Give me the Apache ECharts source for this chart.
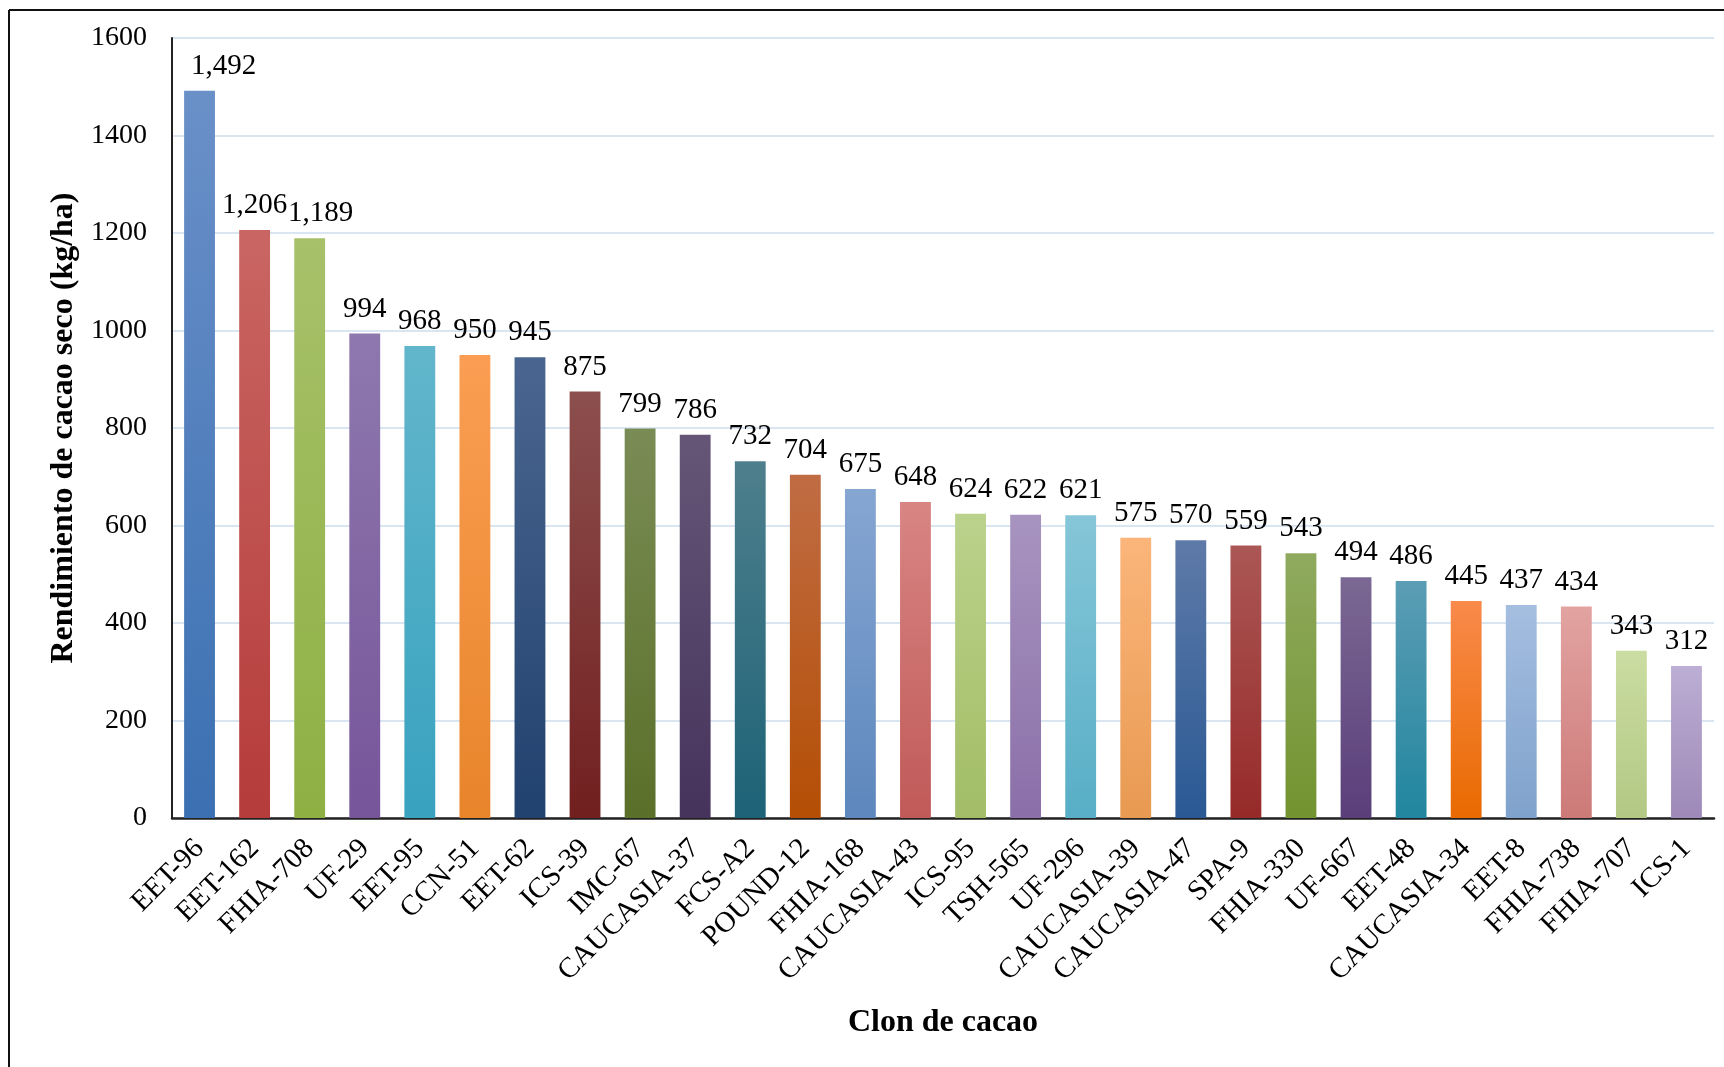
<!DOCTYPE html>
<html>
<head>
<meta charset="utf-8">
<title>Rendimiento de cacao seco por clon</title>
<script src="https://cdn.jsdelivr.net/npm/echarts@6/dist/echarts.min.js"></script>
<style>
  html, body { margin: 0; padding: 0; background: #ffffff; }
  #chart { width: 1724px; height: 1067px; }
</style>
</head>
<body>
<div id="chart"></div>
<script>
// Clones de cacao, ordenados por rendimiento
const clones = [
  'EET-96', 'EET-162', 'FHIA-708', 'UF-29', 'EET-95', 'CCN-51', 'EET-62', 'ICS-39',
  'IMC-67', 'CAUCASIA-37', 'FCS-A2', 'POUND-12', 'FHIA-168', 'CAUCASIA-43', 'ICS-95',
  'TSH-565', 'UF-296', 'CAUCASIA-39', 'CAUCASIA-47', 'SPA-9', 'FHIA-330', 'UF-667',
  'EET-48', 'CAUCASIA-34', 'EET-8', 'FHIA-738', 'FHIA-707', 'ICS-1'
];

// Rendimiento de cacao seco (kg/ha)
const rendimiento = [
  1492, 1206, 1189, 994, 968, 950, 945, 875,
  799, 786, 732, 704, 675, 648, 624,
  622, 621, 575, 570, 559, 543, 494,
  486, 445, 437, 434, 343, 312
];

// Marcas del eje Y
const yTicks = [0, 200, 400, 600, 800, 1000, 1200, 1400, 1600];

// Degradado vertical de cada barra: color superior y color inferior
const topColors = [
  '#6a90c8', '#c96663', '#a7c16a', '#8e78ae', '#62b6cc', '#fb9e53', '#4a6690', '#8c4f4d',
  '#7a8c55', '#655677', '#4e7f8c', '#c06c44', '#86a6d2', '#d88584', '#bad28b',
  '#a894c0', '#86c6d8', '#fbb57a', '#5e7aa8', '#ab5755', '#8faa5e', '#7b6893',
  '#5b9db4', '#f98a4b', '#a5bee0', '#e2a3a1', '#cbdda2', '#bcaed4'
];
const bottomColors = [
  '#3b70b2', '#b53c3a', '#8eb043', '#76559a', '#38a2bf', '#e8852b', '#21416e', '#711f1f',
  '#5a7029', '#46335c', '#1d6277', '#b44e04', '#5d87bd', '#c05a58', '#a2bd66',
  '#8a6fa8', '#57aec6', '#e89a52', '#2a5994', '#962a29', '#739330', '#5a3e7a',
  '#21869f', '#e86a00', '#7fa2cc', '#cc7a78', '#b2c884', '#9e89b8'
];

// Desplazamiento horizontal de algunas etiquetas para que no se solapen
const labelShift = { 0: 24, 2: 11 };

const FONT = '"Liberation Serif", "Times New Roman", serif';

const chart = echarts.init(document.getElementById('chart'), null, { renderer: 'canvas' });

const barData = rendimiento.map((v, i) => {
  const item = {
    value: v,
    itemStyle: {
      color: new echarts.graphic.LinearGradient(0, 0, 0, 1, [
        { offset: 0, color: topColors[i] },
        { offset: 1, color: bottomColors[i] }
      ])
    }
  };
  if (labelShift[i]) item.label = { offset: [labelShift[i], 0] };
  return item;
});

chart.setOption({
  backgroundColor: '#ffffff',
  animation: false,
  textStyle: { fontFamily: FONT },
  graphic: [
    // marco exterior (superior e izquierdo)
    { type: 'line', silent: true, shape: { x1: 9, y1: 10, x2: 1724, y2: 10 },
      style: { stroke: '#111', lineWidth: 2 } },
    { type: 'line', silent: true, shape: { x1: 9, y1: 10, x2: 9, y2: 1067 },
      style: { stroke: '#111', lineWidth: 2 } }
  ],
  grid: { left: 172, right: 10, top: 38, bottom: 249, containLabel: false },
  xAxis: {
    type: 'category',
    data: clones,
    name: 'Clon de cacao',
    nameLocation: 'middle',
    nameGap: 189,
    nameTextStyle: { fontFamily: FONT, fontSize: 32, fontWeight: 'bold', color: '#000' },
    axisLine: { show: true, lineStyle: { color: '#222', width: 2.5 } },
    axisTick: { show: false },
    axisLabel: {
      interval: 0,
      rotate: 45,
      margin: 26,
      fontFamily: FONT,
      fontSize: 29,
      color: '#000'
    }
  },
  yAxis: {
    type: 'value',
    min: yTicks[0],
    max: yTicks[yTicks.length - 1],
    interval: yTicks[1] - yTicks[0],
    name: 'Rendimiento de cacao seco (kg/ha)',
    nameLocation: 'middle',
    nameGap: 89,
    nameRotate: 90,
    nameTextStyle: { fontFamily: FONT, fontSize: 32, fontWeight: 'bold', color: '#000' },
    axisLine: { show: true, lineStyle: { color: '#222', width: 2 } },
    axisTick: { show: false },
    axisLabel: {
      margin: 25, fontFamily: FONT, fontSize: 28, color: '#000',
      formatter: v => String(v)
    },
    splitLine: { show: true, lineStyle: { color: '#dae5f2', width: 2 } }
  },
  series: [{
    type: 'bar',
    data: barData,
    barCategoryGap: '44%',
    label: {
      show: true,
      position: 'top',
      distance: 10,
      fontFamily: FONT,
      fontSize: 29,
      color: '#000',
      formatter: p => Number(p.value).toLocaleString('en-US')
    }
  }]
});
</script>
</body>
</html>
